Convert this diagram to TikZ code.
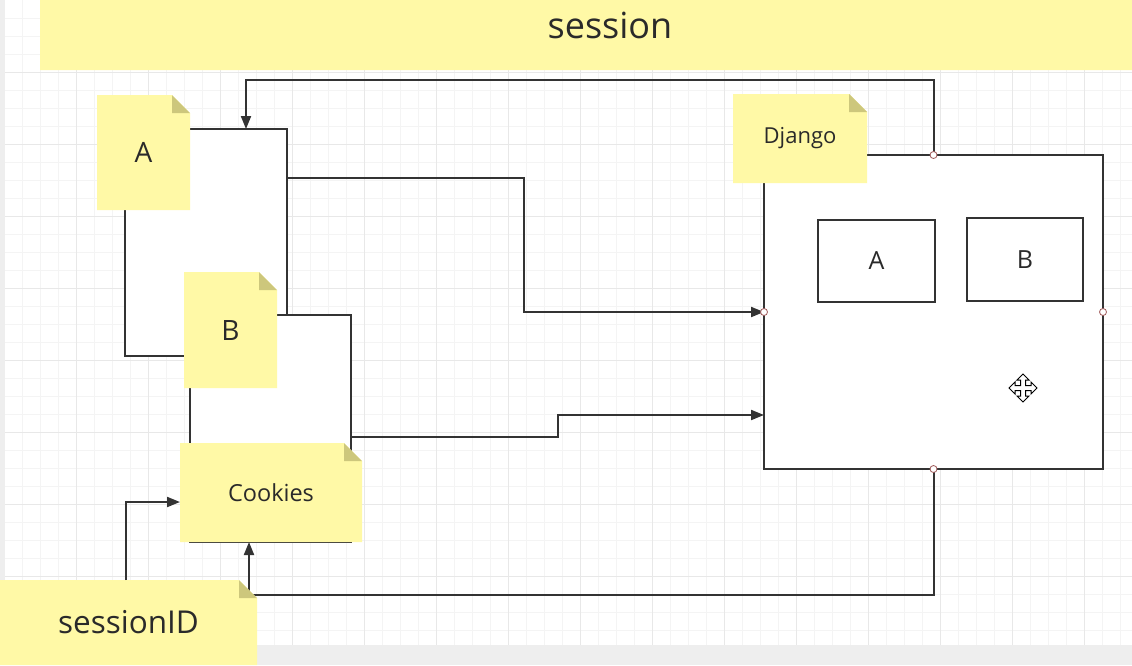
\documentclass[tikz,border=0pt]{standalone}
\usepackage{fontspec}
\setmainfont{Open Sans}
\usetikzlibrary{arrows.meta}
\definecolor{noteyel}{HTML}{FFF9A6}
\definecolor{foldcol}{HTML}{CDC77C}
\definecolor{linec}{HTML}{333333}
\definecolor{txt}{HTML}{2A2A2A}
\definecolor{gridminor}{HTML}{F4F4F4}
\definecolor{gridmajor}{HTML}{E8E8E8}
\definecolor{pinkc}{HTML}{A05A5A}
\definecolor{edgegray}{HTML}{EEEEEE}
\begin{document}
\begin{tikzpicture}[x=1pt,y=-1pt,
  box/.style={draw=linec,line width=2pt,fill=white,inner sep=0pt,outer sep=0pt,text=txt},
  note/.style={rectangle,inner sep=0pt,outer sep=0pt,text=txt,
    path picture={
      \fill[noteyel] (path picture bounding box.south west) -- (path picture bounding box.north west)
        -- ([xshift=-18pt]path picture bounding box.north east)
        -- ([yshift=-18pt]path picture bounding box.north east)
        -- (path picture bounding box.south east) -- cycle;
      \fill[foldcol] ([xshift=-18pt]path picture bounding box.north east)
        -- ([xshift=-18pt,yshift=-18pt]path picture bounding box.north east)
        -- ([yshift=-18pt]path picture bounding box.north east) -- cycle;
    }},
  conn/.style={draw=linec,line width=2pt},
  arr/.style={conn,-{Triangle[length=13pt,width=10pt]}},
  port/.style={circle,draw=pinkc,fill=white,line width=0.8pt,minimum size=7pt,inner sep=0pt},
  bigtxt/.style={font=\fontsize{36}{40}\selectfont},
  midtxt/.style={font=\fontsize{28}{32}\selectfont},
  smalltxt/.style={font=\fontsize{22}{26}\selectfont}
]
\useasboundingbox (0,0) rectangle (1132,665);
% background grid
\fill[white] (0,0) rectangle (1132,645);
\foreach \x in {4,22,...,1132} \draw[gridminor,line width=1pt] (\x,0) -- (\x,645);
\foreach \y in {18,36,...,644} \draw[gridminor,line width=1pt] (5,\y) -- (1132,\y);
\foreach \x in {4,76,...,1132} \draw[gridmajor,line width=1pt] (\x,0) -- (\x,645);
\foreach \y in {72,144,...,644} \draw[gridmajor,line width=1pt] (5,\y) -- (1132,\y);
\fill[edgegray] (0,0) rectangle (5,665);
\fill[edgegray] (0,645) rectangle (1132,665);

% title banner
\node[note,bigtxt,minimum width=1140pt,minimum height=90pt] (title) at (610,25) {session};

% white boxes
\node[box,minimum width=162pt,minimum height=227pt] (boxA) at (206,242.5) {};
\node[box,minimum width=161pt,minimum height=155pt] (boxB) at (270.5,392.5) {};
\node[box,minimum width=161pt,minimum height=72pt] (ckbox) at (270.5,506) {};
\node[box,minimum width=339pt,minimum height=314pt] (dj) at (933.5,312) {};
\node[box,font=\fontsize{25}{28}\selectfont,minimum width=117pt,minimum height=82pt] (inA) at (876.5,261) {A};
\node[box,font=\fontsize{25}{28}\selectfont,minimum width=116pt,minimum height=83pt] (inB) at (1025,259.5) {B};

% connectors
\draw[arr] (dj.north) -- ++(0,-75) -| ([xshift=40pt]boxA.north);
\draw[arr] ([yshift=64.5pt]boxA.east) -| ([xshift=-240pt]dj.west) -- (dj.west);
\draw[arr] ([yshift=-44.5pt]boxB.east) -| ([xshift=-206pt,yshift=-103pt]dj.west) -- ([yshift=-103pt]dj.west);
\draw[arr] (dj.south) -- ++(0,126) -| ([xshift=-21.5pt]ckbox.south);

% notes
\node[note,midtxt,minimum width=93pt,minimum height=115pt] (nA) at (143.5,152.5) {A};
\node[note,midtxt,minimum width=93pt,minimum height=116pt] (nB) at (230.5,330) {B};
\node[note,font=\fontsize{23.5}{27}\selectfont,minimum width=182pt,minimum height=99pt] (cknote) at (271,492.5) {Cookies};
\node[note,smalltxt,minimum width=134pt,minimum height=89pt] (djnote) at (800,138.5) {Django};
\node[note,font=\fontsize{31.5}{35}\selectfont,minimum width=257pt,minimum height=85pt] (sid) at (128.5,622.5) {sessionID};

\draw[arr] ([xshift=-2.5pt]sid.north) |- ([yshift=-9.5pt]cknote.west);

% connection points
\node[port] (p1) at (dj.north) {};
\node[port] (p2) at (dj.west) {};
\node[port] (p3) at (dj.east) {};
\node[port] (p4) at (dj.south) {};

% move cursor
\draw[fill=white,draw=black,line width=1pt,shift={(1023,388)}]
  (0,-14) -- (6,-8) -- (2.5,-8) -- (2.5,-2.5) -- (8,-2.5) -- (8,-6) -- (14,0) -- (8,6) -- (8,2.5)
  -- (2.5,2.5) -- (2.5,8) -- (6,8) -- (0,14) -- (-6,8) -- (-2.5,8) -- (-2.5,2.5) -- (-8,2.5)
  -- (-8,6) -- (-14,0) -- (-8,-6) -- (-8,-2.5) -- (-2.5,-2.5) -- (-2.5,-8) -- (-6,-8) -- cycle;
\end{tikzpicture}
\end{document}
